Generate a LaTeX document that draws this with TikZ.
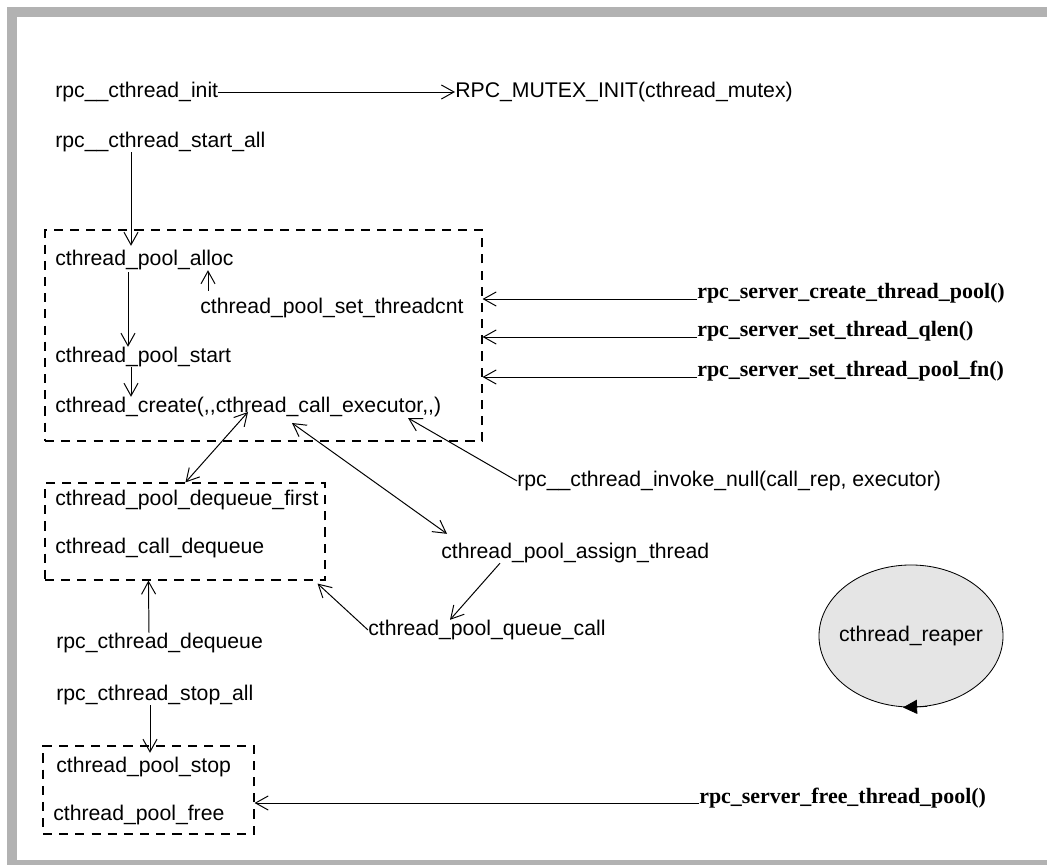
\documentclass[tikz,border=0pt]{standalone}
\usepackage{fontspec}
\setmainfont{Liberation Sans}
\newfontfamily\apifont{Liberation Serif}
\usetikzlibrary{arrows.meta,calc,fit,shapes.geometric}
\tikzset{
  fn/.style={anchor=west, inner sep=0pt, font=\fontsize{15.1}{18}\selectfont},
  api/.style={anchor=base west, inner sep=0pt, font=\apifont\bfseries\fontsize{15.6}{18}\selectfont},
  grpbox/.style={draw=black, dash pattern=on 6.5pt off 5pt, line width=0.8pt, inner sep=0pt},
  arrow/.style={-{Straight Barb[length=9pt,width=10pt]}, line width=0.7pt},
  dblarrow/.style={{Straight Barb[length=9pt,width=10pt]}-{Straight Barb[length=9pt,width=10pt]}, line width=0.7pt},
  daemon/.style={ellipse, draw=black, fill=black!10, line width=0.6pt, minimum width=4.6cm, minimum height=3.55cm, inner sep=0pt, font=\fontsize{15.1}{18}\selectfont},
  looptip/.style={-{Triangle[length=10pt,width=10pt]}, line width=0.6pt},
  pageframe/.style={fill=black!30}
}
\begin{document}
\begin{tikzpicture}[x=0.025cm,y=-0.025cm]
\useasboundingbox (0,0) rectangle (1047,865);
\fill[pageframe] (7,7) rectangle (1047,865);
\fill[white] (17,17) rectangle (1047,860);

\node[fn] (init) at (55,92) {rpc\_\_cthread\_init};
\node[fn] (mutex) at (455,92) {RPC\_MUTEX\_INIT(cthread\_mutex)};
\node[fn] (startall) at (55,142) {rpc\_\_cthread\_start\_all};
\node[fn] (alloc) at (55,260) {cthread\_pool\_alloc};
\node[fn] (setcnt) at (200,308) {cthread\_pool\_set\_threadcnt};
\node[fn] (start) at (55,357) {cthread\_pool\_start};
\node[fn] (create) at (55,407) {cthread\_create(,{},cthread\_call\_executor,{},)};
\node[grpbox, fit={(45,230) (482,441)}] (poolbox) {};
\node[api] (crpool) at (697,299) {rpc\_server\_create\_thread\_pool()};
\node[api] (qlen) at (697,337) {rpc\_server\_set\_thread\_qlen()};
\node[api] (poolfn) at (697,377) {rpc\_server\_set\_thread\_pool\_fn()};
\node[fn] (dqfirst) at (55,500) {cthread\_pool\_dequeue\_first};
\node[fn] (calldq) at (55,548) {cthread\_call\_dequeue};
\node[grpbox, fit={(45,483) (325,580)}] (dqbox) {};
\node[fn] (invoke) at (517,481) {rpc\_\_cthread\_invoke\_null(call\_rep, executor)};
\node[fn] (assign) at (441,553) {cthread\_pool\_assign\_thread};
\node[fn] (queue) at (368,630) {cthread\_pool\_queue\_call};
\node[fn] (rpcdq) at (56,643) {rpc\_cthread\_dequeue};
\node[fn] (stopall) at (56,695) {rpc\_cthread\_stop\_all};
\node[fn] (stop) at (56,767) {cthread\_pool\_stop};
\node[fn] (free) at (53,815) {cthread\_pool\_free};
\node[grpbox, fit={(43,746) (254,834)}] (stopbox) {};
\node[api] (freepool) at (699,803) {rpc\_server\_free\_thread\_pool()};
\node[daemon] (reaper) at (911,636) {\makebox[0pt]{cthread\_reaper}};

\draw[arrow] (init.east) -- (mutex.west);
\draw[arrow] ($(startall.south west)+(76,0)$) -- ($(alloc.north west)+(76,-4)$);
\draw[arrow] ($(alloc.south west)+(73,2)$) -- ($(start.north west)+(73,0)$);
\draw[arrow] ($(setcnt.north west)+(8,-7)$) -- ($(alloc.south west)+(153,0)$);
\draw[arrow] ($(start.south west)+(76,0)$) -- ($(create.north west)+(76,0)$);
\draw[arrow] (crpool.base west) -- (crpool.base west -| poolbox.east);
\draw[arrow] (qlen.base west) -- (qlen.base west -| poolbox.east);
\draw[arrow] (poolfn.base west) -- (poolfn.base west -| poolbox.east);
\draw[dblarrow] ($(create.west)+(193,5)$) -- ($(dqbox.north west)+(141,0)$);
\draw[dblarrow] ($(create.west)+(237,16)$) -- ($(assign.north west)+(6,-9)$);
\draw[arrow] (invoke.west) -- ($(create.west)+(353,11)$);
\draw[arrow] ($(assign.south west)+(59,0)$) -- ($(queue.north west)+(82,0)$);
\draw[arrow] (queue.west) -- ($(dqbox.south east)+(-8,3)$);
\draw[arrow] ($(rpcdq.north west)+(93,0)$) -- ($(dqbox.south west)+(104,0)$);
\draw[arrow] ($(stopall.south west)+(94,0)$) -- ($(stop.north west)+(94,-4)$);
\draw[arrow] (freepool.base west) -- (freepool.base west -| stopbox.east);
\draw[looptip] ($(reaper.south)+(16,-1)$) -- ($(reaper.south)+(-8,0)$);
\end{tikzpicture}
\end{document}
